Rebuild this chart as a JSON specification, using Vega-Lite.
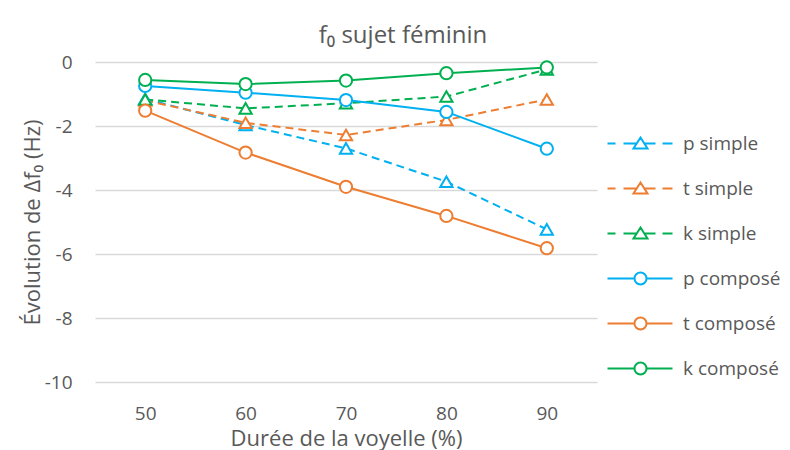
{
  "$schema": "https://vega.github.io/schema/vega-lite/v6.json",
  "width": 502,
  "height": 320,
  "autosize": {"type": "none"},
  "padding": {"left": 95, "top": 62, "right": 193, "bottom": 68},
  "background": "white",
  "config": {"font": "Open Sans", "view": {"stroke": null}},
  "title": {"text": "f₀ sujet féminin", "fontSize": 24, "fontWeight": "normal", "color": "#595959", "anchor": "middle", "dx": 57, "baseline": "alphabetic", "offset": -14},
  "data": {"values": [
    {"duree": 50, "serie": "p simple", "value": -1.15},
    {"duree": 60, "serie": "p simple", "value": -1.97},
    {"duree": 70, "serie": "p simple", "value": -2.70},
    {"duree": 80, "serie": "p simple", "value": -3.74},
    {"duree": 90, "serie": "p simple", "value": -5.23},
    {"duree": 50, "serie": "t simple", "value": -1.20},
    {"duree": 60, "serie": "t simple", "value": -1.90},
    {"duree": 70, "serie": "t simple", "value": -2.28},
    {"duree": 80, "serie": "t simple", "value": -1.81},
    {"duree": 90, "serie": "t simple", "value": -1.17},
    {"duree": 50, "serie": "k simple", "value": -1.17},
    {"duree": 60, "serie": "k simple", "value": -1.45},
    {"duree": 70, "serie": "k simple", "value": -1.29},
    {"duree": 80, "serie": "k simple", "value": -1.08},
    {"duree": 90, "serie": "k simple", "value": -0.23},
    {"duree": 50, "serie": "p composé", "value": -0.75},
    {"duree": 60, "serie": "p composé", "value": -0.96},
    {"duree": 70, "serie": "p composé", "value": -1.19},
    {"duree": 80, "serie": "p composé", "value": -1.56},
    {"duree": 90, "serie": "p composé", "value": -2.71},
    {"duree": 50, "serie": "t composé", "value": -1.52},
    {"duree": 60, "serie": "t composé", "value": -2.83},
    {"duree": 70, "serie": "t composé", "value": -3.90},
    {"duree": 80, "serie": "t composé", "value": -4.81},
    {"duree": 90, "serie": "t composé", "value": -5.82},
    {"duree": 50, "serie": "k composé", "value": -0.56},
    {"duree": 60, "serie": "k composé", "value": -0.69},
    {"duree": 70, "serie": "k composé", "value": -0.58},
    {"duree": 80, "serie": "k composé", "value": -0.35},
    {"duree": 90, "serie": "k composé", "value": -0.17}
  ]},
  "encoding": {
    "x": {"field": "duree", "type": "ordinal", "scale": {"type": "point", "padding": 0.5},
      "axis": {"title": "Durée de la voyelle (%)", "labelAngle": 0, "domain": false, "ticks": false, "grid": false, "labelPadding": 22, "labelFontSize": 19, "labelColor": "#595959", "titleFontSize": 22, "titleFontWeight": "normal", "titleColor": "#595959", "titleY": 63, "titleBaseline": "alphabetic"}},
    "y": {"field": "value", "type": "quantitative", "scale": {"domain": [-10, 0], "nice": false},
      "axis": {"title": "Évolution de Δf₀ (Hz)", "values": [-10, -8, -6, -4, -2, 0], "labelExpr": "'' + datum.value", "grid": true, "gridColor": "#d9d9d9", "gridWidth": 1.5, "domain": false, "ticks": false, "labelPadding": 23, "labelFontSize": 19, "labelColor": "#595959", "titleFontSize": 22, "titleFontWeight": "normal", "titleColor": "#595959", "titleX": -63, "titleY": 160, "titleBaseline": "middle", "titleAlign": "center"}},
    "color": {"field": "serie", "type": "nominal",
      "scale": {"domain": ["p simple", "t simple", "k simple", "p composé", "t composé", "k composé"], "range": ["#00B0F0", "#ED7D31", "#00B050", "#00B0F0", "#ED7D31", "#00B050"]},
      "legend": {"title": null, "orient": "none", "legendX": 509, "legendY": 72, "labelFontSize": 19, "labelColor": "#595959", "symbolSize": 100, "symbolStrokeWidth": 2, "symbolFillColor": "white", "symbolOpacity": 1, "symbolOffset": 0, "labelOffset": 60, "rowPadding": 24, "padding": 0}}
  },
  "layer": [
    {"transform": [{"filter": "indexof(datum.serie, 'simple') >= 0"}],
      "mark": {"type": "line", "strokeWidth": 2, "strokeDash": [8, 5]}},
    {"transform": [{"filter": "indexof(datum.serie, 'simple') < 0"}],
      "mark": {"type": "line", "strokeWidth": 2}},
    {"mark": {"type": "point", "filled": false, "fill": "white", "fillOpacity": 1, "opacity": 1, "strokeWidth": 2, "size": 150},
      "encoding": {"shape": {"condition": {"test": "indexof(datum.serie, 'simple') >= 0", "value": "triangle-up"}, "value": "circle"}}},
    {"transform": [{"filter": "false"}],
      "mark": {"type": "point", "filled": false, "fill": "white", "fillOpacity": 1, "opacity": 1, "strokeWidth": 2},
      "encoding": {"shape": {"field": "serie", "type": "nominal",
        "scale": {"domain": ["p simple", "t simple", "k simple", "p composé", "t composé", "k composé"], "range": [
          "M-1.2,0H0.4M2,0H4.64M6.16,0H8.4M9.8,0H11.8M5.4,-1.2L6.8,1L4,1Z",
          "M-1.2,0H0.4M2,0H4.64M6.16,0H8.4M9.8,0H11.8M5.4,-1.2L6.8,1L4,1Z",
          "M-1.2,0H0.4M2,0H4.64M6.16,0H8.4M9.8,0H11.8M5.4,-1.2L6.8,1L4,1Z",
          "M-1.2,0H4.2M6.6,0H11.8M6.6,0A1.2,1.2 0 1,1 4.2,0A1.2,1.2 0 1,1 6.6,0",
          "M-1.2,0H4.2M6.6,0H11.8M6.6,0A1.2,1.2 0 1,1 4.2,0A1.2,1.2 0 1,1 6.6,0",
          "M-1.2,0H4.2M6.6,0H11.8M6.6,0A1.2,1.2 0 1,1 4.2,0A1.2,1.2 0 1,1 6.6,0"]},
        "legend": {"title": null, "orient": "none", "legendX": 509, "legendY": 72, "labelFontSize": 19, "labelColor": "#595959", "symbolSize": 100, "symbolStrokeWidth": 2, "symbolFillColor": "white", "symbolOpacity": 1, "symbolOffset": 0, "labelOffset": 60, "rowPadding": 24, "padding": 0}}}}
  ]
}
